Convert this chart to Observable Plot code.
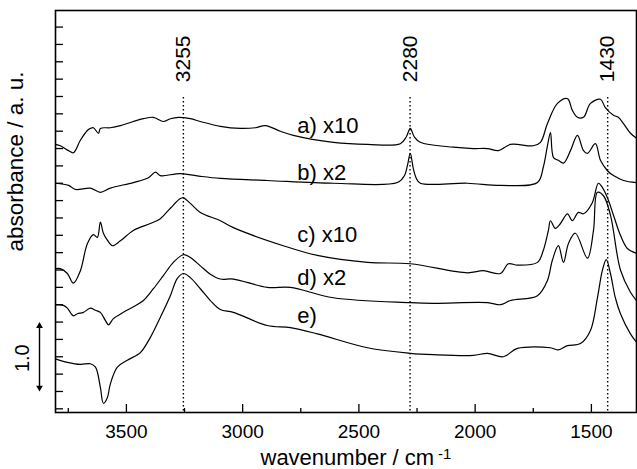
<!DOCTYPE html>
<html><head><meta charset="utf-8">
<script src="https://cdn.jsdelivr.net/npm/d3@7"></script>
<script src="https://cdn.jsdelivr.net/npm/@observablehq/plot@0.6"></script>
<style>body{margin:0;background:#fff}</style>
</head><body><div id="chart"></div>
<script>
// ---- data: [wavenumber (cm-1), offset absorbance] ----
const spectrumA = [[3805,3.81],[3784,3.79],[3749,3.72],[3728,3.69],[3698,3.87],[3668,4.01],[3655,4.04],[3642,4.05],[3620,3.97],[3612,4.04],[3569,4.05],[3526,4.08],[3470,4.14],[3427,4.18],[3384,4.20],[3341,4.14],[3311,4.18],[3276,4.20],[3225,4.18],[3182,4.14],[3096,4.07],[3010,4.04],[2945,4.05],[2902,4.08],[2838,4.00],[2782,3.94],[2610,3.84],[2463,3.81],[2322,3.82],[2296,3.92],[2279,4.04],[2262,3.92],[2236,3.84],[2094,3.77],[2008,3.75],[1947,3.75],[1900,3.72],[1848,3.81],[1750,3.79],[1719,3.84],[1689,4.11],[1646,4.40],[1603,4.47],[1582,4.30],[1560,4.20],[1534,4.20],[1504,4.40],[1461,4.46],[1440,4.34],[1405,4.23],[1384,4.20],[1362,4.11],[1332,3.97],[1306,3.90]];
const spectrumB = [[3805,3.25],[3749,3.22],[3719,3.16],[3655,3.18],[3612,3.12],[3569,3.18],[3470,3.26],[3405,3.33],[3375,3.41],[3354,3.36],[3268,3.39],[3182,3.35],[3096,3.32],[2894,3.29],[2610,3.25],[2334,3.26],[2304,3.36],[2291,3.51],[2279,3.68],[2266,3.46],[2253,3.32],[2236,3.25],[2033,3.25],[1891,3.22],[1732,3.26],[1707,3.48],[1689,3.79],[1676,3.98],[1663,3.62],[1642,3.58],[1620,3.54],[1590,3.72],[1560,3.94],[1534,3.72],[1517,3.68],[1483,3.82],[1461,3.58],[1431,3.43],[1405,3.36],[1362,3.29],[1306,3.26]];
const spectrumC = [[3805,2.02],[3784,2.02],[3754,1.95],[3728,1.81],[3698,1.99],[3668,2.38],[3642,2.51],[3625,2.47],[3612,2.69],[3599,2.53],[3582,2.43],[3560,2.35],[3526,2.42],[3470,2.57],[3397,2.67],[3354,2.74],[3311,2.89],[3268,3.03],[3255,3.04],[3225,2.96],[3182,2.83],[3096,2.71],[3040,2.61],[2825,2.35],[2679,2.21],[2463,2.11],[2279,2.09],[2033,1.96],[1965,1.99],[1891,1.95],[1857,2.09],[1818,2.07],[1732,2.11],[1707,2.28],[1685,2.57],[1676,2.71],[1655,2.60],[1633,2.67],[1603,2.81],[1582,2.71],[1556,2.83],[1534,2.81],[1496,2.97],[1470,3.25],[1453,3.19],[1431,3.04],[1405,2.79],[1375,2.50],[1345,2.31],[1306,2.24]];
const spectrumD = [[3805,1.50],[3771,1.49],[3754,1.45],[3728,1.34],[3711,1.37],[3685,1.39],[3655,1.45],[3633,1.42],[3612,1.39],[3590,1.27],[3577,1.21],[3556,1.30],[3513,1.39],[3470,1.47],[3427,1.56],[3384,1.73],[3341,1.92],[3298,2.11],[3255,2.22],[3225,2.18],[3182,2.06],[3139,1.94],[3096,1.87],[3040,1.87],[2894,1.75],[2795,1.75],[2610,1.60],[2279,1.53],[2180,1.52],[1947,1.53],[1891,1.50],[1848,1.56],[1732,1.63],[1689,1.85],[1668,2.14],[1642,2.35],[1620,2.11],[1599,2.38],[1569,2.53],[1517,2.17],[1491,2.57],[1474,3.12],[1448,3.07],[1418,2.79],[1375,2.00],[1332,1.68],[1306,1.56]];
const spectrumE = [[3805,0.72],[3754,0.67],[3698,0.64],[3655,0.65],[3633,0.60],[3612,0.31],[3599,0.08],[3582,0.16],[3569,0.36],[3539,0.60],[3496,0.70],[3440,0.81],[3397,1.03],[3354,1.32],[3311,1.63],[3281,1.88],[3255,1.95],[3225,1.89],[3182,1.73],[3139,1.56],[3096,1.43],[3040,1.39],[2894,1.20],[2795,1.17],[2679,1.08],[2463,0.88],[2279,0.80],[2180,0.78],[2008,0.77],[1947,0.80],[1879,0.75],[1818,0.87],[1676,0.88],[1642,0.85],[1603,0.91],[1547,0.94],[1504,1.13],[1474,1.60],[1453,1.99],[1436,2.15],[1418,1.95],[1397,1.60],[1375,1.37],[1332,1.08],[1306,0.96]];
const seriesNames = ["a) x10", "b) x2", "c) x10", "d) x2", "e)"];
const labelWavenumber = 2765;
const labelLevels = [3.98, 3.30, 2.40, 1.78, 1.23];
const peakPositions = [3255, 2280, 1430];
const xTicksMajor = [3500, 3000, 2500, 2000, 1500];
const xTicksMinor = [3750, 3250, 2750, 2250, 1750];
const yTickStep = 0.25;
const scaleBar = [0.25, 1.25];
const scaleBarLabel = "1.0";
const xLabel = "wavenumber / cm";
const xLabelSup = "-1";
const yLabel = "absorbance / a. u.";

// ---- layout ----
const W = 637, H = 469;
const mL = 55, mR = 1, mT = 10, mB = 57;
const xDomain = [3805, 1306];
const yDomain = [-0.053, 5.739];
const pxX = (W - mL - mR) / (xDomain[0] - xDomain[1]);
const pxY = (H - mT - mB) / (yDomain[1] - yDomain[0]);
const font = "'Liberation Sans', Arial, Helvetica, sans-serif";

const spectra = [spectrumA, spectrumB, spectrumC, spectrumD, spectrumE];
const rows = spectra.flatMap((s, i) => s.map(([w, v]) => ({w, v, s: seriesNames[i]})));
const yTicks = d3.range(0, 5.6, yTickStep);
const xBar = xDomain[0] + 16 / pxX;
const xBarLabel = xDomain[0] + 32.5 / pxX;
const headOff = 3.9 / pxY;

const chart = Plot.plot({
  width: W, height: H,
  marginLeft: mL, marginRight: mR, marginTop: mT, marginBottom: mB,
  style: {fontFamily: font, background: "#fff", color: "#000", overflow: "visible"},
  x: {domain: xDomain, axis: null},
  y: {domain: yDomain, axis: null},
  marks: [
    Plot.ruleX(peakPositions, {stroke: "#000", strokeWidth: 1.4, strokeDasharray: "1.5,2.5", insetTop: 87}),
    Plot.line(rows, {x: "w", y: "v", z: "s", stroke: "#000", strokeWidth: 1.2, curve: "catmull-rom"}),
    Plot.text(peakPositions, {x: d => d, text: d => String(d), frameAnchor: "top", dy: 25, rotate: -90, textAnchor: "end", lineAnchor: "middle", fontSize: 21, fill: "#000"}),
    Plot.text(seriesNames, {x: () => labelWavenumber, y: (d, i) => labelLevels[i], text: d => d, textAnchor: "start", lineAnchor: "bottom", fontSize: 22, fill: "#000"}),
    // ticks (inward)
    Plot.ruleY(yTicks, {x1: xDomain[0], x2: xDomain[0] - 8 / pxX, stroke: "#000", strokeWidth: 1.3}),
    Plot.ruleX(xTicksMajor, {y1: yDomain[0], y2: yDomain[0] + 8 / pxY, stroke: "#000", strokeWidth: 1.3}),
    Plot.ruleX(xTicksMinor, {y1: yDomain[0], y2: yDomain[0] + 4 / pxY, stroke: "#000", strokeWidth: 1.3}),
    Plot.text(xTicksMajor, {x: d => d, text: d => String(d), frameAnchor: "bottom", dy: 25, lineAnchor: "bottom", fontSize: 19, fill: "#000"}),
    Plot.frame({stroke: "#000", strokeWidth: 1.6}),
    // axis labels
    Plot.text([xLabel], {frameAnchor: "bottom", dx: -85.5, dy: 52, textAnchor: "start", lineAnchor: "bottom", fontSize: 22, fill: "#000"}),
    Plot.text([xLabelSup], {frameAnchor: "bottom", dx: 92, dy: 46, textAnchor: "start", lineAnchor: "bottom", fontSize: 15, fill: "#000"}),
    Plot.text([yLabel], {frameAnchor: "left", dx: -33, dy: -50, rotate: -90, textAnchor: "middle", lineAnchor: "bottom", fontSize: 22.5, fill: "#000"}),
    // scale bar
    Plot.ruleX([xBar], {y1: scaleBar[0] + headOff, y2: scaleBar[1] - headOff, stroke: "#000", strokeWidth: 1.4}),
    Plot.dot([scaleBar[1] - headOff], {x: () => xBar, y: d => d, symbol: "triangle", r: 2.5, fill: "#000", stroke: "none"}),
    Plot.dot([scaleBar[0] + headOff], {x: () => xBar, y: d => d, symbol: "triangle", rotate: 180, r: 2.5, fill: "#000", stroke: "none"}),
    Plot.text([scaleBarLabel], {x: () => xBarLabel, y: () => (scaleBar[0] + scaleBar[1]) / 2 - 0.02, rotate: -90, lineAnchor: "middle", fontSize: 20, fill: "#000"})
  ]
});
document.getElementById("chart").appendChild(chart);
</script>
</body></html>
